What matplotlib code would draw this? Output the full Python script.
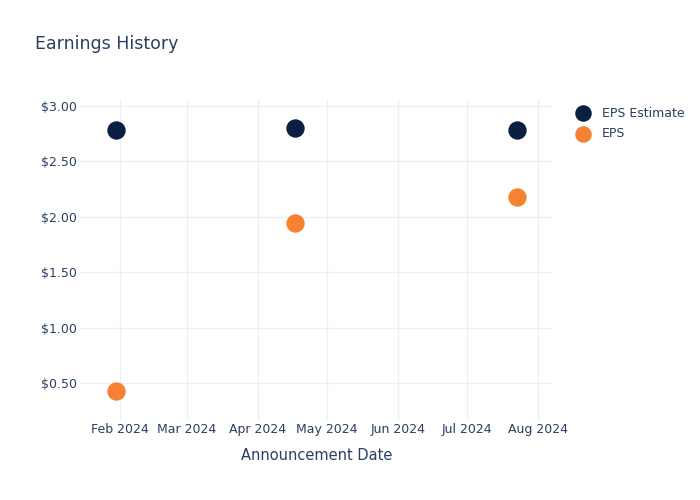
import matplotlib
matplotlib.use("Agg")
import matplotlib.pyplot as plt
import matplotlib.dates as mdates
from matplotlib.ticker import FuncFormatter
from datetime import datetime

# data
dates = ["2024-01-30", "2024-04-17", "2024-07-23"]
eps_estimate = [2.78, 2.80, 2.78]
eps_actual = [0.43, 1.94, 2.18]
tick_months = ["2024-02-01", "2024-03-01", "2024-04-01", "2024-05-01",
               "2024-06-01", "2024-07-01", "2024-08-01"]

x = [datetime.strptime(d, "%Y-%m-%d") for d in dates]
xt = [datetime.strptime(d, "%Y-%m-%d") for d in tick_months]

text_col = "#2a3f5f"
grid_col = "#ebf0f8"
navy = "#0b1f42"
orange = "#f58233"

plt.rcParams["font.family"] = ["DejaVu Sans"]

fig = plt.figure(figsize=(7, 5), dpi=100)
ax = fig.add_axes([80 / 700, 1 - 420 / 500, 473 / 700, 320 / 500])

ax.scatter(x, eps_estimate, s=175, color=navy, label="EPS Estimate", zorder=3, linewidths=0)
ax.scatter(x, eps_actual, s=175, color=orange, label="EPS", zorder=3, linewidths=0)

ax.set_xlim(datetime(2024, 1, 14, 12), datetime(2024, 8, 7, 14))
ax.set_ylim(0.166, 3.054)
ax.set_xticks(xt)
ax.xaxis.set_major_formatter(mdates.DateFormatter("%b %Y"))
ax.set_yticks([0.5, 1.0, 1.5, 2.0, 2.5, 3.0])
ax.yaxis.set_major_formatter(FuncFormatter(lambda v, p: "${:.2f}".format(v)))

ax.grid(True, color=grid_col, linewidth=1)
ax.set_axisbelow(True)
for s in ax.spines.values():
    s.set_visible(False)
ax.tick_params(length=0, colors=text_col, labelsize=9)
ax.tick_params(axis="y", pad=2)
ax.tick_params(axis="x", pad=2)

ax.set_xlabel("Announcement Date", color=text_col, fontsize=10.5, labelpad=9)
fig.text(35 / 700, 1 - 44 / 500, "Earnings History", color=text_col, fontsize=12.5, va="center")

leg = ax.legend(loc="upper left", bbox_to_anchor=(1.013, 1.014), frameon=False,
                fontsize=9, labelcolor=text_col, handletextpad=0.5,
                labelspacing=0.6, markerscale=0.9)

fig.savefig("out.png", dpi=100)
